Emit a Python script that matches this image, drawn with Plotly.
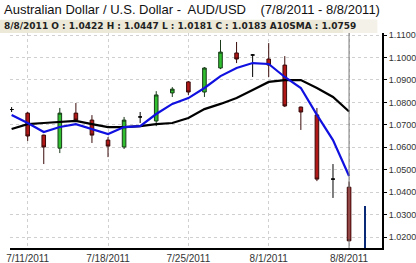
import plotly.graph_objects as go

dates = ["7/8/2011", "7/11/2011", "7/12/2011", "7/13/2011", "7/14/2011", "7/15/2011",
         "7/18/2011", "7/19/2011", "7/20/2011", "7/21/2011", "7/22/2011",
         "7/25/2011", "7/26/2011", "7/27/2011", "7/28/2011", "7/29/2011",
         "8/1/2011", "8/2/2011", "8/3/2011", "8/4/2011", "8/5/2011", "8/8/2011"]
next_day = ["8/9/2011"]
opens  = [1.0768, 1.0752, 1.0654, 1.0596, 1.0752, 1.0721, 1.0632, 1.0601, 1.0735, 1.0717, 1.0842,
          1.0891, 1.0846, 1.0953, 1.1020, 1.1011, 1.0993, 1.0966, 1.0779, 1.0744, 1.0458, 1.0422]
highs  = [1.0779, 1.0757, 1.0656, 1.0775, 1.0797, 1.0743, 1.0645, 1.0735, 1.0757, 1.0850, 1.0868,
          1.0895, 1.0957, 1.1078, 1.1069, 1.1015, 1.1064, 1.1006, 1.0781, 1.0775, 1.0525, 1.0447]
lows   = [1.0757, 1.0628, 1.0525, 1.0574, 1.0717, 1.0619, 1.0556, 1.0592, 1.0708, 1.0694, 1.0824,
          1.0833, 1.0824, 1.0948, 1.0975, 1.0913, 1.0913, 1.0779, 1.0677, 1.0449, 1.0374, 1.0181]
closes = [1.0768, 1.0650, 1.0601, 1.0752, 1.0721, 1.0654, 1.0605, 1.0721, 1.0735, 1.0833, 1.0859,
          1.0846, 1.0953, 1.1024, 1.0993, 1.1011, 1.0966, 1.0784, 1.0757, 1.0458, 1.0458, 1.0183]
sma10 = [1.0681, 1.0703, 1.0708, 1.0712, 1.0717, 1.0703, 1.0690, 1.0690, 1.0694, 1.0703, 1.0708,
         1.0730, 1.0770, 1.0793, 1.0819, 1.0855, 1.0891, 1.0899, 1.0899, 1.0864, 1.0824, 1.0759]
sma5 = [1.0744, 1.0708, 1.0668, 1.0690, 1.0703, 1.0681, 1.0659, 1.0690, 1.0694, 1.0748, 1.0793,
        1.0819, 1.0864, 1.0917, 1.0953, 1.0975, 1.0971, 1.0913, 1.0864, 1.0744, 1.0632, 1.0472]
next_bar_top = [1.0338]
y_floor = 1.0151
y_top = 1.1109
y_ticks = [1.02, 1.03, 1.04, 1.05, 1.06, 1.07, 1.08, 1.09, 1.10, 1.11]
x_ticks = ["7/11/2011", "7/18/2011", "7/25/2011", "8/1/2011", "8/8/2011"]
title = "Australian Dollar / U.S. Dollar -  AUD/USD&nbsp;&nbsp;&nbsp;&nbsp;(7/8/2011 - 8/8/2011)"
header = "8/8/2011 O : 1.0422 H : 1.0447 L : 1.0181 C : 1.0183 A10SMA : 1.0759"

doji = [o == c for o, c in zip(opens, closes)]
def pick(arr, flag):
    return [v for v, d in zip(arr, doji) if d == flag]

fig = go.Figure()
fig.add_trace(go.Scatter(x=dates, y=sma10, mode="lines", line=dict(color="black", width=2.2),
                         showlegend=False, hoverinfo="skip"))
fig.add_trace(go.Scatter(x=dates, y=sma5, mode="lines", line=dict(color="#1010e0", width=2.2),
                         showlegend=False, hoverinfo="skip"))
fig.add_trace(go.Candlestick(
    x=pick(dates, False), open=pick(opens, False), high=pick(highs, False),
    low=pick(lows, False), close=pick(closes, False),
    increasing=dict(line=dict(color="#1a3a1a", width=1), fillcolor="#2fbf2f"),
    decreasing=dict(line=dict(color="#3a0a0a", width=1), fillcolor="#b01818"),
    showlegend=False))
fig.add_trace(go.Candlestick(
    x=pick(dates, True), open=pick(opens, True), high=pick(highs, True),
    low=pick(lows, True), close=pick(closes, True),
    increasing=dict(line=dict(color="black", width=1), fillcolor="black"),
    decreasing=dict(line=dict(color="black", width=1), fillcolor="black"),
    showlegend=False))
fig.add_trace(go.Bar(x=next_day, y=[t - y_floor for t in next_bar_top], base=[y_floor],
                     width=0.13, marker=dict(color="#0a2a78", line=dict(width=0)),
                     showlegend=False, hoverinfo="skip"))

fig.add_shape(type="line", xref="x", yref="paper", x0=dates[-1], x1=dates[-1], y0=0, y1=1,
              line=dict(color="#777777", width=1))
fig.add_shape(type="rect", xref="paper", yref="paper", x0=-0.03, x1=0.987, y0=1.0, y1=1.062,
              fillcolor="#ECE9D8", line=dict(width=0), layer="below")
fig.add_shape(type="rect", xref="paper", yref="paper", x0=0.895, x1=0.987, y0=1.0, y1=1.062,
              fillcolor="#F4F2E8", line=dict(width=0), layer="below")

fig.add_annotation(text=title, xref="paper", yref="paper", x=-0.021, y=1.107, xanchor="left",
                   yanchor="middle", showarrow=False,
                   font=dict(family="Liberation Sans, Arial", size=13, color="#111111"))
fig.add_annotation(text="<b>" + header + "</b>", xref="paper", yref="paper", x=-0.021, y=1.031,
                   xanchor="left", yanchor="middle", showarrow=False,
                   font=dict(family="DejaVu Sans", size=9, color="#222222"))

fig.update_layout(
    width=416, height=263,
    margin=dict(l=10, r=34, t=33, b=15),
    paper_bgcolor="white", plot_bgcolor="white",
    bargap=0, boxgap=0.68,
    xaxis=dict(type="category", categoryorder="array", categoryarray=dates + next_day,
               range=[-0.1, 23.05], rangeslider=dict(visible=False), automargin=False,
               tickmode="array", tickvals=x_ticks, ticktext=x_ticks,
               showgrid=True, gridcolor="#d0d0d0", griddash="dot", gridwidth=1,
               showline=True, linecolor="black", linewidth=2, ticks="",
               tickfont=dict(family="Liberation Sans, Arial", size=10, color="#333333"),
               fixedrange=True),
    yaxis=dict(side="right", range=[y_floor, y_top], tickmode="array", tickvals=y_ticks,
               tickformat=".4f", showgrid=True, gridcolor="#d0d0d0", griddash="dot", gridwidth=1,
               showline=True, linecolor="black", linewidth=2, ticks="outside", ticklen=3,
               tickcolor="black", automargin=False,
               tickfont=dict(family="Liberation Sans, Arial", size=9, color="#333333"),
               zeroline=False, fixedrange=True),
)

fig.write_html("out.html")
